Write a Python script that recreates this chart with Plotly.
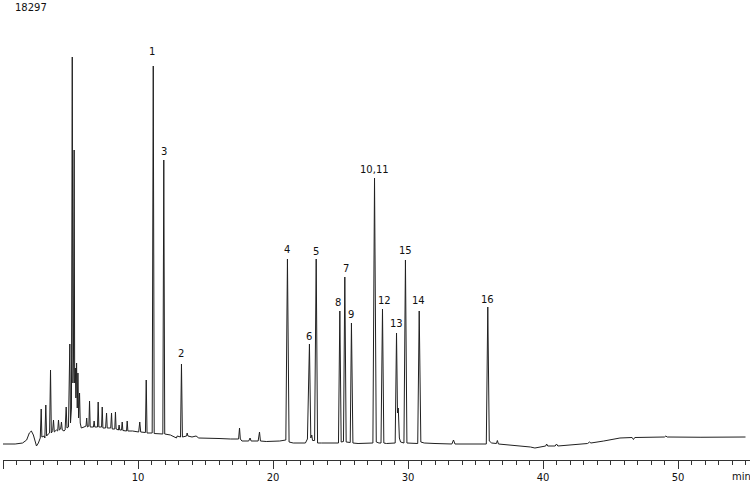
import plotly.graph_objects as go

# ---- chromatogram trace (retention time in min, detector signal in counts) ----
rt_early = [0.00, 0.90, 1.45, 1.75, 1.95, 2.10, 2.25, 2.40, 2.48, 2.62, 2.76, 2.83, 2.88, 3.05, 3.10,
            3.17, 3.23, 3.35, 3.45, 3.52, 3.58, 3.68, 3.74, 3.80, 3.95, 4.05, 4.11, 4.17, 4.27, 4.33,
            4.39, 4.52, 4.60, 4.68, 4.74, 4.85, 4.95, 5.00, 5.07, 5.13, 5.18, 5.22, 5.27, 5.31, 5.36,
            5.40, 5.45, 5.50, 5.55, 5.60, 5.67, 5.72, 5.78]
sig_early = [560, 560, 600, 720, 1000, 1080, 920, 640, 480, 600, 800, 1960, 840, 880, 800,
             2120, 880, 960, 1000, 3520, 1000, 1100, 1520, 1040, 1120, 1080, 1520, 1120, 1160, 1440,
             1120, 1080, 1120, 2040, 1200, 1240, 4560, 1400, 2000, 16040, 3000, 4000, 12320, 3000, 3600,
             2400, 3800, 2000, 3400, 1600, 2600, 1400, 1300]

rt_mid = [5.80, 6.00, 6.15, 6.20, 6.25, 6.36, 6.41, 6.46, 6.70, 6.75, 6.80, 7.00, 7.05, 7.10, 7.30,
          7.35, 7.40, 7.60, 7.67, 7.72, 7.98, 8.04, 8.09, 8.28, 8.33, 8.38, 8.55, 8.60, 8.65, 8.78,
          8.83, 8.88, 9.15, 9.20, 9.25, 9.60, 10.05, 10.13, 10.20, 10.55, 10.61, 10.67, 11.05, 11.13, 11.20,
          11.84, 11.91, 11.98, 12.40, 12.85, 12.90, 13.15, 13.22, 13.29, 13.60, 13.64, 13.70, 14.00, 14.30,
          14.50, 15.00, 16.00, 16.85, 17.45, 17.52, 17.58, 17.70, 18.20, 18.30, 18.38, 18.90, 19.00, 19.07,
          19.50, 20.50, 20.95]
sig_mid = [1200, 1240, 1280, 1600, 1240, 1280, 2280, 1240, 1240, 1480, 1240, 1240, 2240, 1240, 1240,
           2040, 1200, 1200, 1800, 1200, 1200, 1800, 1160, 1160, 1840, 1160, 1120, 1320, 1120, 1120,
           1440, 1100, 1080, 1480, 1080, 1080, 1040, 1440, 1040, 1020, 3120, 1000, 1000, 15680, 980,
           960, 11920, 960, 920, 800, 880, 840, 3760, 840, 880, 1000, 880, 840, 880,
           800, 800, 780, 760, 760, 1200, 760, 680, 680, 800, 680, 680, 1040, 680,
           660, 680, 720]

rt_analytes = [21.07, 21.19, 21.50, 22.40, 22.55, 22.70, 22.80, 22.87, 22.93, 23.08, 23.20, 23.30, 23.60,
               24.85, 24.95, 25.05, 25.22, 25.32, 25.42, 25.72, 25.81, 25.92, 26.30, 27.40, 27.52, 27.65,
               27.85, 28.00, 28.11, 28.21, 28.40, 29.05, 29.15, 29.22, 29.28, 29.36, 29.45, 29.70, 29.81,
               29.92, 30.72, 30.83, 30.95, 31.20, 32.00, 33.25, 33.37, 33.48, 35.80, 35.91, 36.02, 36.20,
               36.55, 36.62, 36.70, 37.50]
sig_analytes = [7960, 640, 600, 600, 760, 4560, 800, 920, 700, 700, 7960, 600, 600,
                600, 5880, 640, 660, 7240, 640, 620, 5400, 600, 580, 600, 11200, 640,
                600, 600, 5960, 600, 580, 600, 5000, 1800, 2000, 800, 640, 600, 7920,
                600, 580, 5880, 640, 600, 580, 560, 720, 560, 560, 6040, 680, 600,
                580, 700, 560, 520]

rt_tail = [38.50, 39.07, 39.40, 39.70, 40.20, 40.27, 40.35, 40.90, 41.00, 41.10, 42.00, 43.30, 43.45,
           43.55, 44.50, 45.70, 46.60, 46.70, 46.80, 48.00, 49.00, 49.10, 49.20, 51.70, 53.00, 55.00]
sig_tail = [480, 440, 400, 440, 480, 560, 480, 480, 560, 480, 520, 580, 640,
            600, 680, 800, 820, 740, 820, 830, 840, 880, 840, 830, 840, 840]

# ---- peak labels ----
peak_names = ["1", "3", "2", "4", "5", "6", "7", "8", "9", "10,11", "12", "13", "15", "14", "16"]
peak_label_rt = [11.07, 11.89, 13.22, 21.07, 23.15, 22.63, 25.44, 24.85, 25.81, 27.52, 28.26, 29.15,
                 29.81, 30.78, 35.89]
peak_label_sig = [16280, 12280, 4200, 8360, 8280, 4880, 7600, 6240, 5760, 11560, 6320, 5400,
                  8320, 6320, 6360]

full_scale = "18297"
tick_values = [0, 10, 20, 30, 40, 50]
tick_labels = ["0", "10", "20", "30", "40", "50"]

FONT = "DejaVu Sans"

rt = rt_early + rt_mid + rt_analytes + rt_tail
sig = sig_early + sig_mid + sig_analytes + sig_tail

fig = go.Figure()
fig.add_trace(go.Scatter(x=rt, y=sig, mode="lines",
                         line=dict(color="#202020", width=1), hoverinfo="skip",
                         showlegend=False))

for name, x, y in zip(peak_names, peak_label_rt, peak_label_sig):
    fig.add_annotation(x=x, y=y, text=name, showarrow=False, xanchor="center", yanchor="middle",
                       font=dict(family=FONT, size=10, color="#111"))

fig.add_annotation(xref="paper", yref="paper", x=10 / 747, y=1 - 7 / 460, text=full_scale,
                   showarrow=False, xanchor="left", yanchor="middle",
                   font=dict(family=FONT, size=10, color="#111"))
fig.add_annotation(xref="paper", yref="paper", x=(741 - 3) / 747, y=-17 / 460, text="min",
                   showarrow=False, xanchor="center", yanchor="middle",
                   font=dict(family=FONT, size=10, color="#111"))

fig.update_layout(
    width=750, height=483,
    margin=dict(l=3, r=0, t=0, b=23),
    paper_bgcolor="white", plot_bgcolor="white",
    xaxis=dict(range=[0, 747 / 13.5], showgrid=False, zeroline=False,
               showline=True, linecolor="#333", linewidth=1,
               ticks="outside", ticklen=8, tickcolor="#333", tickwidth=1,
               tickvals=tick_values, ticktext=tick_labels,
               tickfont=dict(family=FONT, size=10, color="#111"),
               minor=dict(dtick=1, ticks="outside", ticklen=4, tickcolor="#333", tickwidth=1)),
    yaxis=dict(range=[-80, 18320], visible=False, showgrid=False, zeroline=False),
)

fig.write_html("out.html")
